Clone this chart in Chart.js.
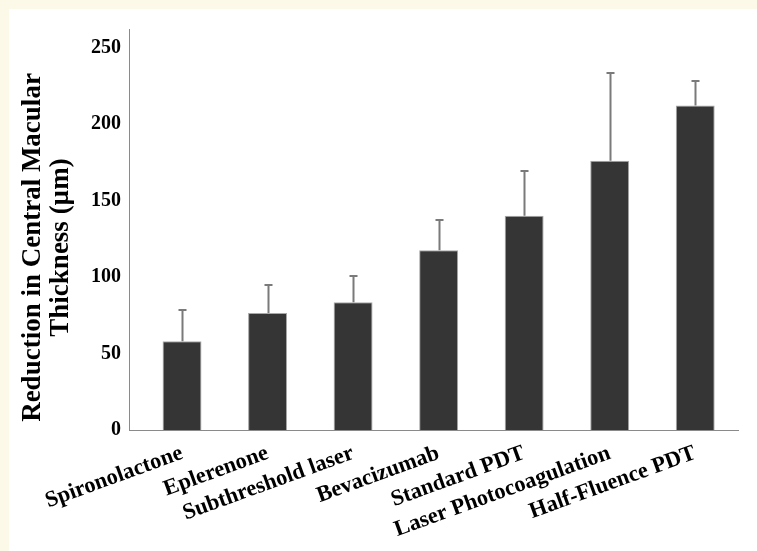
<!DOCTYPE html>
<html>
<head>
<meta charset="utf-8">
<script src="https://cdn.jsdelivr.net/npm/chart.js@4/dist/chart.umd.min.js"></script>
<style>
  html, body { margin: 0; padding: 0; background: #fdf9e8; }
  #panel { position: absolute; left: 9px; top: 9px; width: 748px; height: 542px; background: #ffffff; }
  canvas { display: block; }
</style>
</head>
<body>
<div id="panel"><canvas id="chart" width="748" height="542"></canvas></div>
<script>
// Treatments compared
const treatments = [
  'Spironolactone',
  'Eplerenone',
  'Subthreshold laser',
  'Bevacizumab',
  'Standard PDT',
  'Laser Photocoagulation',
  'Half-Fluence PDT'
];
// Mean reduction in central macular thickness (µm)
const meanReduction = [58, 76.5, 83.5, 117.5, 140, 176, 212];
// Upper error (µm)
const errorUpper = [20.5, 18.5, 17, 20, 29.5, 57, 16];
// Value axis ticks
const yTicks = [0, 50, 100, 150, 200, 250];
const yTitle = ['Reduction in Central Macular', 'Thickness (µm)'];

const serif = '"Liberation Serif", "Times New Roman", serif';

// Upward error bars with a small cap
const errorBars = {
  id: 'errorBars',
  afterDatasetsDraw(chart) {
    const { ctx, scales: { x, y } } = chart;
    ctx.save();
    ctx.strokeStyle = '#7a7a7a';
    ctx.lineWidth = 2;
    meanReduction.forEach((m, i) => {
      const px = Math.round(x.getPixelForValue(i)) + 0.5;
      const yb = y.getPixelForValue(m);
      const yt = Math.round(y.getPixelForValue(m + errorUpper[i]));
      ctx.beginPath();
      ctx.moveTo(px, yb);
      ctx.lineTo(px, yt);
      ctx.moveTo(px - 4, yt);
      ctx.lineTo(px + 4, yt);
      ctx.stroke();
    });
    ctx.restore();
  }
};

// Two-line rotated axis title, centred a little below the plot middle
const axisTitle = {
  id: 'axisTitle',
  afterDraw(chart) {
    const { ctx, chartArea } = chart;
    const cy = (chartArea.top + chartArea.bottom) / 2 + 18;
    ctx.save();
    ctx.fillStyle = '#000';
    ctx.font = 'bold 27px ' + serif;
    ctx.textAlign = 'center';
    ctx.textBaseline = 'middle';
    const xs = [24, 52];
    yTitle.forEach((line, i) => {
      ctx.save();
      ctx.translate(xs[i], cy);
      ctx.rotate(-Math.PI / 2);
      ctx.fillText(line, 0, 0);
      ctx.restore();
    });
    ctx.restore();
  }
};

new Chart(document.getElementById('chart'), {
  type: 'bar',
  data: {
    datasets: [{
      data: meanReduction.map((v, i) => ({ x: i, y: v })),
      backgroundColor: '#353535',
      borderColor: '#a8a8a8',
      borderWidth: 1,
      categoryPercentage: 1,
      barPercentage: 0.455
    }]
  },
  options: {
    responsive: false,
    animation: false,
    layout: { padding: { top: 4, right: 19, left: 0, bottom: 0 } },
    plugins: { legend: { display: false }, tooltip: { enabled: false } },
    scales: {
      x: {
        type: 'linear',
        min: -0.62,
        max: 6.5,
        offset: false,
        grid: { display: false, offset: false, drawTicks: false },
        border: { color: '#8a8a8a', width: 1 },
        afterFit: s => { s.height = 121; },
        ticks: {
          stepSize: 1,
          includeBounds: false,
          autoSkip: false,
          minRotation: 20,
          maxRotation: 20,
          padding: 10,
          color: '#000',
          font: { family: serif, size: 22.5, weight: 'bold' },
          callback: v => Number.isInteger(v) ? (treatments[v] ?? '') : ''
        }
      },
      y: {
        min: 0,
        max: 262,
        afterFit: s => { s.width = 120; },
        grid: { display: false, drawTicks: false },
        border: { color: '#8a8a8a', width: 1 },
        afterBuildTicks: s => { s.ticks = yTicks.map(v => ({ value: v })); },
        ticks: {
          padding: 8,
          color: '#000',
          font: { family: serif, size: 20, weight: 'bold' }
        }
      }
    }
  },
  plugins: [errorBars, axisTitle]
});
</script>
</body>
</html>
